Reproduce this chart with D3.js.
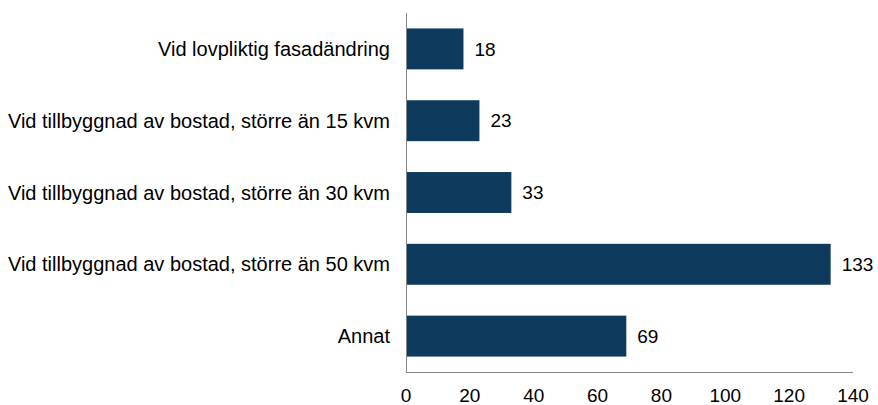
<!DOCTYPE html>
<html>
<head>
<meta charset="utf-8">
<script src="https://cdn.jsdelivr.net/npm/d3@7"></script>
<style>
body { margin: 0; background: #fff; }
</style>
</head>
<body>
<div id="chart"></div>
<script>
var categories = [
	"Vid lovpliktig fasadändring",
	"Vid tillbyggnad av bostad, större än 15 kvm",
	"Vid tillbyggnad av bostad, större än 30 kvm",
	"Vid tillbyggnad av bostad, större än 50 kvm",
	"Annat"
];
var values = [18, 23, 33, 133, 69];
var ticks = [0, 20, 40, 60, 80, 100, 120, 140];

var W = 878, H = 405;
var plotLeft = 406, plotRight = 853, plotTop = 13, plotBottom = 372;
var barColor = "#0e3a5e";
var font = "'Liberation Sans', Arial, Helvetica, sans-serif";

var svg = d3.select("#chart").append("svg")
	.attr("width", W)
	.attr("height", H);

var x = d3.scaleLinear().domain([0, 140]).range([plotLeft, plotRight]);
var y = d3.scaleBand().domain(categories).range([plotTop, plotBottom]).paddingInner(0.43).paddingOuter(0.215);

svg.selectAll("rect.bar")
	.data(values)
	.enter()
	.append("rect")
	.attr("class", "bar")
	.attr("x", x(0))
	.attr("y", (d, i) => y(categories[i]))
	.attr("width", d => x(d) - x(0))
	.attr("height", y.bandwidth())
	.attr("fill", barColor);

// axis lines
svg.append("line")
	.attr("x1", plotLeft + 0.5).attr("x2", plotLeft + 0.5)
	.attr("y1", plotTop).attr("y2", plotBottom)
	.attr("stroke", "#868686").attr("stroke-width", 1);
svg.append("line")
	.attr("x1", plotLeft).attr("x2", plotRight)
	.attr("y1", plotBottom + 0.5).attr("y2", plotBottom + 0.5)
	.attr("stroke", "#868686").attr("stroke-width", 1);

// category labels
svg.selectAll("text.cat")
	.data(categories)
	.enter()
	.append("text")
	.attr("class", "cat")
	.attr("x", plotLeft - 16)
	.attr("y", d => y(d) + y.bandwidth() / 2)
	.attr("dy", "0.35em")
	.attr("text-anchor", "end")
	.style("font-family", font)
	.style("font-size", "20px")
	.attr("fill", "#000")
	.text(d => d);

// value labels
svg.selectAll("text.val")
	.data(values)
	.enter()
	.append("text")
	.attr("class", "val")
	.attr("x", d => x(d) + 11)
	.attr("y", (d, i) => y(categories[i]) + y.bandwidth() / 2)
	.attr("dy", "0.35em")
	.style("font-family", font)
	.style("font-size", "19px")
	.attr("fill", "#000")
	.text(d => d);

// tick labels
svg.selectAll("text.tick")
	.data(ticks)
	.enter()
	.append("text")
	.attr("class", "tick")
	.attr("x", d => x(d))
	.attr("y", 402)
	.attr("text-anchor", "middle")
	.style("font-family", font)
	.style("font-size", "19px")
	.attr("fill", "#000")
	.text(d => d);
</script>
</body>
</html>
